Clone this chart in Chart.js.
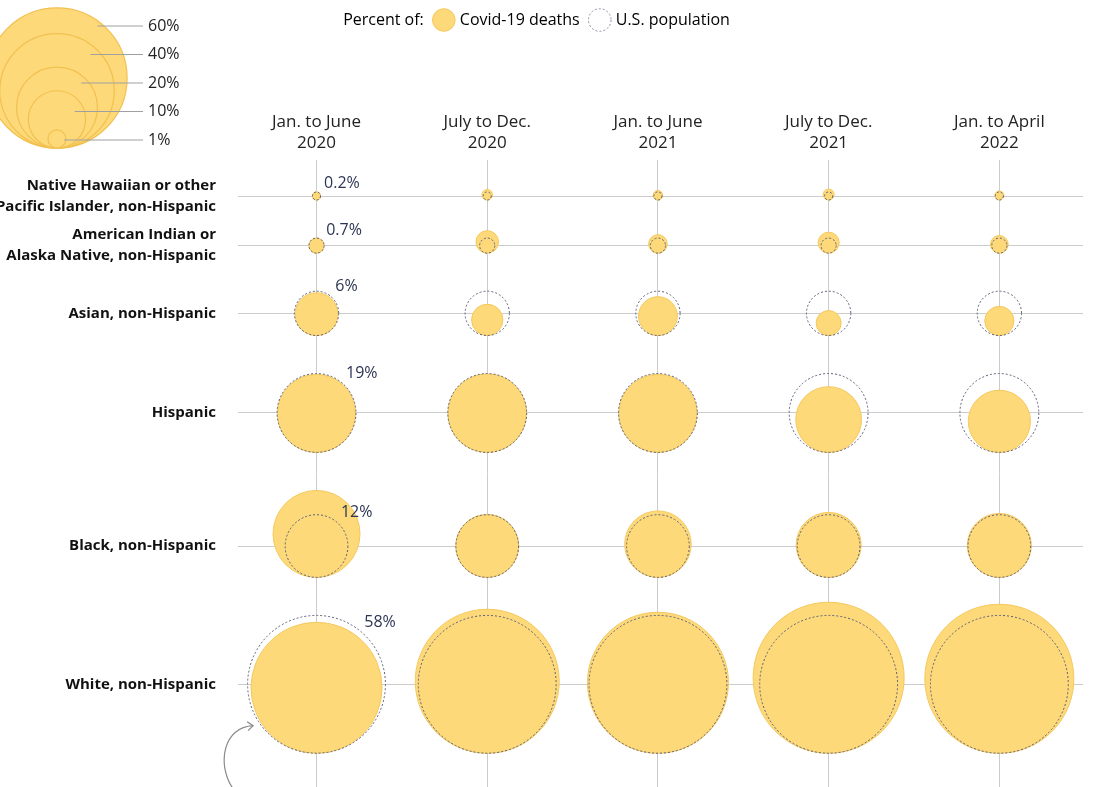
<!DOCTYPE html>
<html>
<head>
<meta charset="utf-8">
<script src="https://cdn.jsdelivr.net/npm/chart.js@4.4.1/dist/chart.umd.min.js"></script>
<style>
  html, body { margin: 0; padding: 0; background: #fff; }
  canvas { display: block; }
</style>
</head>
<body>
<canvas id="bubbleChart" width="1101" height="787"></canvas>
<script>
const periods = [
    ['Jan. to June', '2020'],
    ['July to Dec.', '2020'],
    ['Jan. to June', '2021'],
    ['July to Dec.', '2021'],
    ['Jan. to April', '2022']
];
const groups = [
    ['Native Hawaiian or other', 'Pacific Islander, non-Hispanic'],
    ['American Indian or', 'Alaska Native, non-Hispanic'],
    'Asian, non-Hispanic',
    'Hispanic',
    'Black, non-Hispanic',
    'White, non-Hispanic'
];

// share of U.S. population, %
const populationShare = [0.2, 0.7, 6, 19, 12, 58];

// share of Covid-19 deaths per period, %
const deathsNHPI = [0.2, 0.34, 0.28, 0.37, 0.25];
const deathsAIAN = [0.7, 1.55, 1.05, 1.35, 0.95];
const deathsAsian = [5.6, 3.0, 4.6, 1.9, 2.6];
const deathsHispanic = [18.6, 18.8, 18.6, 13.2, 11.8];
const deathsBlack = [23.1, 12.1, 13.5, 12.9, 12.5];
const deathsWhite = [52.4, 63.3, 60.7, 69.6, 67.8];

const keyShares = [60, 40, 20, 10, 1];

const deathShare = [deathsNHPI, deathsAIAN, deathsAsian, deathsHispanic, deathsBlack, deathsWhite];

const FONT = '"Open Sans"';
const DEATH_FILL = '#fdd97a';
const DEATH_EDGE = '#f4c85c';
const POP_EDGE = '#5c6079';
const GRID = '#cccccc';

const PX_PER_SQRT_PCT = 9.05;
const PLOT_TOP = 160;
const PLOT_HEIGHT = 787 - PLOT_TOP;   // y units are pixels
const ROW_PAD = 38;

function radiusOf(p) {
    return PX_PER_SQRT_PCT * Math.sqrt(p);
}

// row centres, spaced by the bubbles of the first period
const rowPos = [];
groups.forEach((g, i) => {
    const rPop = radiusOf(populationShare[i]);
    const top = Math.max(rPop, 2 * radiusOf(deathShare[i][0]) - rPop);
    if (i === 0) {
        rowPos.push(36);
    } else {
        rowPos.push(rowPos[i - 1] + radiusOf(populationShare[i - 1]) + top + ROW_PAD);
    }
});

// deaths bubbles sit on the bottom of the population circle
const deathPoints = [];
const popPoints = [];
deathShare.forEach((row, i) => {
    row.forEach((v, j) => {
        deathPoints.push({ x: j, y: rowPos[i] + radiusOf(populationShare[i]) - radiusOf(v), v: v });
        popPoints.push({ x: j, y: rowPos[i], v: populationShare[i] });
    });
});

const dashedPopulation = {
    id: 'dashedPopulation',
    beforeDatasetDraw(chart, args) {
        if (args.index === 1) {
            chart.ctx.save();
            chart.ctx.setLineDash([2, 2]);
        }
    },
    afterDatasetDraw(chart, args) {
        if (args.index === 1) {
            chart.ctx.restore();
        }
    }
};

// nudge the legend a little to the left, like the original
const legendShift = {
    id: 'legendShift',
    afterLayout(chart) {
        if (chart.legend) {
            chart.legend.right -= 34;
        }
    }
};

const annotations = {
    id: 'annotations',
    afterDatasetsDraw(chart) {
        const { ctx, scales: { x, y } } = chart;
        const cx = x.getPixelForValue(0);
        ctx.save();
        ctx.font = '16px ' + FONT;
        ctx.fillStyle = '#2c3553';
        ctx.textAlign = 'left';
        ctx.textBaseline = 'middle';
        populationShare.forEach((p, i) => {
            const r = radiusOf(p);
            const cy = y.getPixelForValue(rowPos[i]);
            ctx.fillText(p + '%', cx + 0.62 * r + 5, cy - 0.75 * r - 10);
        });

        // curved pointer at the white bubble
        const last = populationShare.length - 1;
        const r = radiusOf(populationShare[last]);
        const cy = y.getPixelForValue(rowPos[last]);
        const tipX = cx - 0.92 * r, tipY = cy + 0.6 * r;
        ctx.strokeStyle = '#8a8a8a';
        ctx.lineWidth = 1.2;
        ctx.beginPath();
        ctx.moveTo(cx - 1.22 * r, cy + 1.5 * r);
        ctx.bezierCurveTo(cx - 1.45 * r, cy + 1.15 * r, cx - 1.35 * r, cy + 0.62 * r, tipX, tipY);
        ctx.stroke();
        ctx.beginPath();
        ctx.moveTo(tipX - 6, tipY - 4);
        ctx.lineTo(tipX, tipY);
        ctx.lineTo(tipX - 5, tipY + 5);
        ctx.stroke();
        ctx.restore();
    }
};

const sizeKey = {
    id: 'sizeKey',
    afterDraw(chart) {
        const ctx = chart.ctx;
        const keyX = 57, keyBottom = 148;
        ctx.save();
        keyShares.forEach(p => {
            const r = radiusOf(p);
            ctx.beginPath();
            ctx.arc(keyX, keyBottom - r, r, 0, Math.PI * 2);
            ctx.fillStyle = DEATH_FILL;
            ctx.fill();
            ctx.strokeStyle = '#f2c04e';
            ctx.lineWidth = 1.2;
            ctx.stroke();
        });
        ctx.font = '16px ' + FONT;
        ctx.fillStyle = '#222';
        ctx.textAlign = 'left';
        ctx.textBaseline = 'middle';
        keyShares.forEach((p, i) => {
            const r = radiusOf(p);
            const ly = 26 + i * 28.5;
            ctx.strokeStyle = '#a0a0a0';
            ctx.lineWidth = 1;
            ctx.beginPath();
            ctx.moveTo(keyX + 0.55 * r + 2, ly);
            ctx.lineTo(143, ly);
            ctx.stroke();
            ctx.fillText(p + '%', 148, ly);
        });
        ctx.restore();
    }
};

const ctx = document.getElementById('bubbleChart').getContext('2d');

const myChart = new Chart(ctx, {
    type: 'bubble',
    data: {
        datasets: [{
            label: 'Covid-19 deaths',
            data: deathPoints,
            backgroundColor: DEATH_FILL,
            borderColor: DEATH_EDGE,
            borderWidth: 1,
            radius: c => radiusOf(c.raw.v),
            hoverRadius: 0,
            order: 2,
            clip: false
        }, {
            label: 'U.S. population',
            data: popPoints,
            backgroundColor: 'rgba(0,0,0,0)',
            borderColor: POP_EDGE,
            borderWidth: 1,
            radius: c => radiusOf(c.raw.v),
            hoverRadius: 0,
            order: 1,
            clip: false
        }]
    },
    options: {
        responsive: false,
        animation: false,
        events: [],
        layout: {
            autoPadding: false,
            padding: { left: 0, right: 18, top: 0, bottom: 0 }
        },
        scales: {
            x: {
                type: 'linear',
                position: 'top',
                min: -0.46,
                max: 4.49,
                afterBuildTicks: scale => {
                    scale.ticks = periods.map((p, i) => ({ value: i }));
                },
                afterFit: scale => {
                    const lg = scale.chart.legend;
                    scale.height = PLOT_TOP - (lg ? lg.height : 0);
                    scale.paddingLeft = 0;
                    scale.paddingRight = 0;
                },
                ticks: {
                    callback: v => periods[v],
                    autoSkip: false,
                    maxRotation: 0,
                    padding: 6,
                    color: '#222',
                    font: { family: FONT, size: 17, lineHeight: 1.24 }
                },
                grid: { color: GRID, drawTicks: false },
                border: { display: false }
            },
            y: {
                type: 'linear',
                reverse: true,
                min: 0,
                max: PLOT_HEIGHT,
                afterBuildTicks: scale => {
                    scale.ticks = rowPos.map(v => ({ value: v }));
                },
                afterFit: scale => {
                    scale.width = 238;
                    scale.paddingTop = 0;
                    scale.paddingBottom = 0;
                },
                ticks: {
                    callback: (v, i) => groups[i],
                    autoSkip: false,
                    padding: 22,
                    color: '#111',
                    font: { family: FONT, size: 15, weight: 'bold', lineHeight: 1.4 }
                },
                grid: { color: GRID, drawTicks: false },
                border: { display: false }
            }
        },
        plugins: {
            tooltip: { enabled: false },
            legend: {
                display: true,
                position: 'top',
                onClick: null,
                labels: {
                    usePointStyle: true,
                    padding: 12,
                    color: '#222',
                    font: { family: FONT, size: 16 },
                    generateLabels: () => [
                        { text: 'Percent of:', fillStyle: 'rgba(0,0,0,0)', strokeStyle: 'rgba(0,0,0,0)', lineWidth: 0, pointStyle: 'circle' },
                        { text: 'Covid-19 deaths', fillStyle: DEATH_FILL, strokeStyle: DEATH_EDGE, lineWidth: 1, pointStyle: 'circle' },
                        { text: 'U.S. population', fillStyle: '#fff', strokeStyle: '#8a8ea3', lineWidth: 1, lineDash: [2, 2], pointStyle: 'circle' }
                    ]
                }
            }
        }
    },
    plugins: [dashedPopulation, legendShift, annotations, sizeKey]
});
</script>
</body>
</html>
